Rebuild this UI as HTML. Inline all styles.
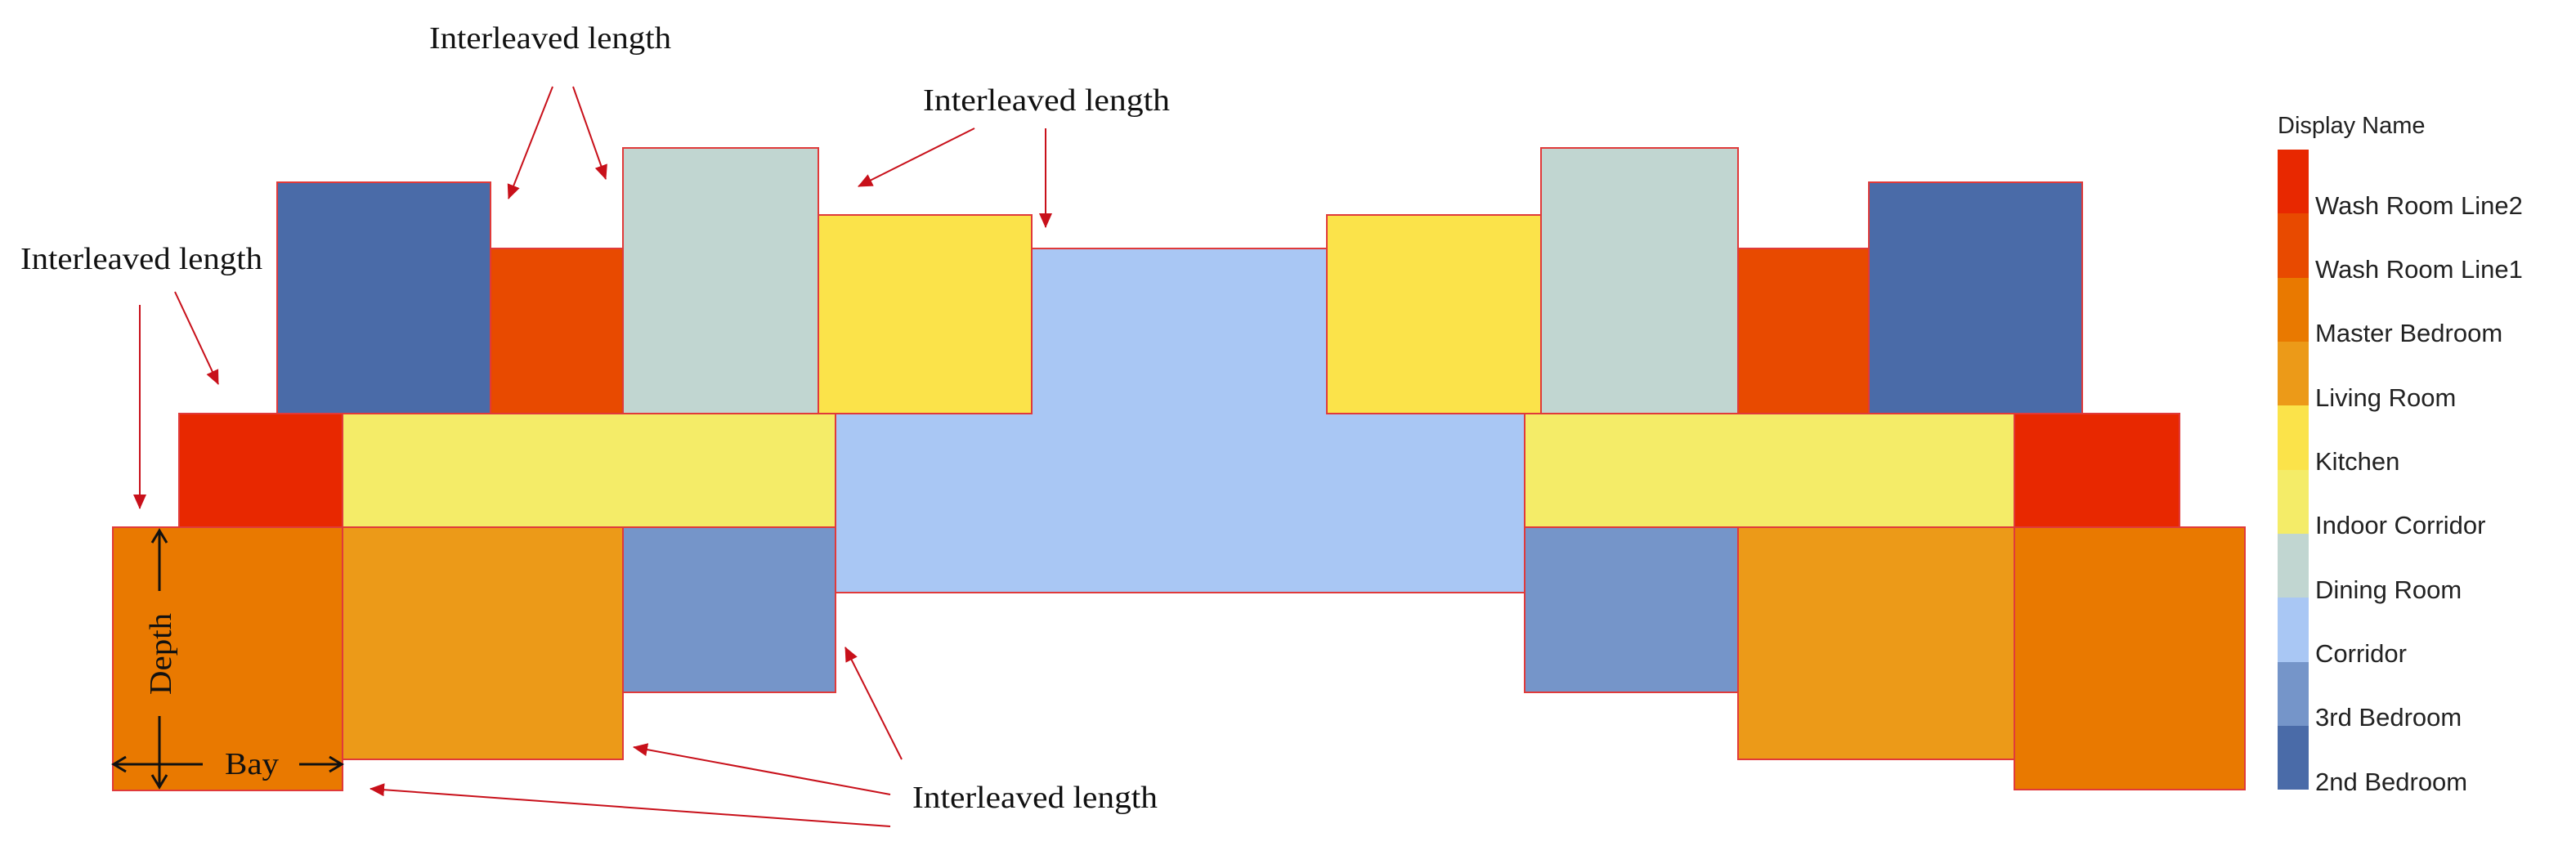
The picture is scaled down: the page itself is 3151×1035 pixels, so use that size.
<!DOCTYPE html>
<html><head><meta charset="utf-8"><style>
html,body{margin:0;padding:0;background:#fff;}
svg{display:block;}
.s{font-family:"Liberation Serif",serif;font-size:38px;fill:#111;}
.l{font-family:"Liberation Sans",sans-serif;font-size:31px;fill:#222;}
</style></head><body>
<svg width="3151" height="1035" viewBox="0 0 3151 1035" xmlns="http://www.w3.org/2000/svg">
<defs>
<marker id="ra" markerWidth="18" markerHeight="16" refX="17" refY="8" orient="auto" markerUnits="userSpaceOnUse" viewBox="0 0 18 16">
<path d="M0,0 L18,8 L0,16 z" fill="#c8101a"/></marker>
</defs>
<g stroke="#e03a3a" stroke-width="2">
<rect x="1022" y="304" width="843" height="421" fill="#a9c7f4"/>
<rect x="339" y="223" width="261" height="283" fill="#4a6ba8"/>
<rect x="600" y="304" width="162" height="202" fill="#e84a00"/>
<rect x="762" y="181" width="239" height="325" fill="#c1d6d1"/>
<rect x="1001" y="263" width="261" height="243" fill="#fbe34a"/>
<rect x="219" y="506" width="200" height="139" fill="#e82800"/>
<rect x="419" y="506" width="603" height="139" fill="#f4ec68"/>
<rect x="138" y="645" width="281" height="322" fill="#e97900"/>
<rect x="419" y="645" width="343" height="284" fill="#ec9a18"/>
<rect x="762" y="645" width="260" height="202" fill="#7595c9"/>
<rect x="1623" y="263" width="262" height="243" fill="#fbe34a"/>
<rect x="1885" y="181" width="241" height="325" fill="#c1d6d1"/>
<rect x="2126" y="304" width="160" height="202" fill="#e84a00"/>
<rect x="2286" y="223" width="261" height="283" fill="#4a6ba8"/>
<rect x="1865" y="506" width="599" height="139" fill="#f4ec68"/>
<rect x="2464" y="506" width="202" height="139" fill="#e82800"/>
<rect x="1865" y="645" width="261" height="202" fill="#7595c9"/>
<rect x="2126" y="645" width="338" height="284" fill="#ec9a18"/>
<rect x="2464" y="645" width="282" height="321" fill="#e97900"/>
</g>
<rect x="2786" y="183" width="38" height="79" fill="#e82800"/>
<rect x="2786" y="261" width="38" height="79" fill="#e84a00"/>
<rect x="2786" y="340" width="38" height="79" fill="#e97900"/>
<rect x="2786" y="418" width="38" height="79" fill="#ec9a18"/>
<rect x="2786" y="496" width="38" height="79" fill="#fbe34a"/>
<rect x="2786" y="575" width="38" height="79" fill="#f4ec68"/>
<rect x="2786" y="653" width="38" height="79" fill="#c1d6d1"/>
<rect x="2786" y="731" width="38" height="79" fill="#a9c7f4"/>
<rect x="2786" y="810" width="38" height="79" fill="#7595c9"/>
<rect x="2786" y="888" width="38" height="78" fill="#4a6ba8"/>
<text class="l" x="2786" y="163" style="font-size:29px">Display Name</text>
<text class="l" x="2832" y="262">Wash Room Line2</text>
<text class="l" x="2832" y="340">Wash Room Line1</text>
<text class="l" x="2832" y="418">Master Bedroom</text>
<text class="l" x="2832" y="497">Living Room</text>
<text class="l" x="2832" y="575">Kitchen</text>
<text class="l" x="2832" y="653">Indoor Corridor</text>
<text class="l" x="2832" y="732">Dining Room</text>
<text class="l" x="2832" y="810">Corridor</text>
<text class="l" x="2832" y="888">3rd Bedroom</text>
<text class="l" x="2832" y="967">2nd Bedroom</text>
<text class="s" x="525" y="59" textLength="296" lengthAdjust="spacingAndGlyphs">Interleaved length</text>
<text class="s" x="1129" y="135" textLength="302" lengthAdjust="spacingAndGlyphs">Interleaved length</text>
<text class="s" x="25" y="329" textLength="296" lengthAdjust="spacingAndGlyphs">Interleaved length</text>
<text class="s" x="1116" y="988" textLength="300" lengthAdjust="spacingAndGlyphs">Interleaved length</text>
<g stroke="#c8101a" stroke-width="2" marker-end="url(#ra)" fill="none">
<line x1="676" y1="106" x2="622" y2="243"/>
<line x1="701" y1="106" x2="741" y2="219"/>
<line x1="1192" y1="157" x2="1050" y2="228"/>
<line x1="1279" y1="157" x2="1279" y2="278"/>
<line x1="214" y1="357" x2="267" y2="470"/>
<line x1="171" y1="373" x2="171" y2="622"/>
<line x1="1103" y1="929" x2="1034" y2="792"/>
<line x1="1089" y1="972" x2="775" y2="914"/>
<line x1="1089" y1="1011" x2="453" y2="965"/>
</g>
<g stroke="#111" stroke-width="3" fill="none">
<line x1="195" y1="650" x2="195" y2="723"/>
<polyline points="186,664 195,649 204,664"/>
<line x1="195" y1="876" x2="195" y2="962"/>
<polyline points="186,948 195,963 204,948"/>
<line x1="140" y1="935" x2="248" y2="935"/>
<polyline points="154,926 139,935 154,944"/>
<line x1="366" y1="935" x2="417" y2="935"/>
<polyline points="403,926 418,935 403,944"/>
</g>
<text class="s" x="0" y="0" transform="translate(209,850) rotate(-90)" textLength="100" lengthAdjust="spacingAndGlyphs">Depth</text>
<text class="s" x="275" y="947" textLength="66" lengthAdjust="spacingAndGlyphs">Bay</text>
</svg>
</body></html>
